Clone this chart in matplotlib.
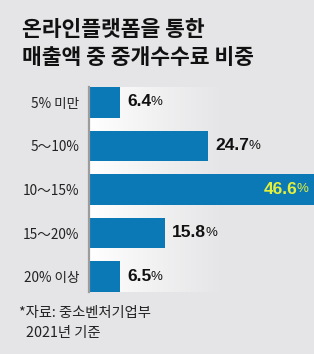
import matplotlib
matplotlib.use("Agg")
import matplotlib.pyplot as plt
import numpy as np
from matplotlib.colors import LinearSegmentedColormap

plt.rcParams['font.family'] = ['Noto Sans CJK KR', 'DejaVu Sans']

categories = ["5% 미만", "5～10%", "10～15%", "15～20%", "20% 이상"]
values = [6.4, 24.7, 46.6, 15.8, 6.5]
title_lines = ["온라인플랫폼을 통한", "매출액 중 중개수수료 비중"]
footnote_lines = ["*자료: 중소벤처기업부", "2021년 기준"]

BG = "#e5e5e7"
BAR = "#0a79b5"
HILITE = "#e4f03c"

W, H = 314, 354
fig = plt.figure(figsize=(W / 100, H / 100), dpi=100, facecolor=BG)

ax_left, ax_right = 89 / W, 1.0
ax_top, ax_bot = 1 - 87 / H, 1 - 292 / H
ax = fig.add_axes([ax_left, ax_bot, ax_right - ax_left, ax_top - ax_bot])
ax.set_facecolor(BG)

xmax = 46.6
bh = 0.71
ylims = (len(values) - 1 + bh / 2, -bh / 2)

# gradient background (white at axis -> background at right)
cmap = LinearSegmentedColormap.from_list("g", ["#ffffff", "#f1f1f2", BG])
grad = np.linspace(0, 1, 256).reshape(1, -1)
ax.imshow(grad, aspect="auto", cmap=cmap, extent=[0, 28, ylims[0], ylims[1]],
          zorder=0, interpolation="bilinear")
ax.set_xlim(0, xmax)
ax.set_ylim(*ylims)

y = np.arange(len(values))
ax.barh(y, values, height=bh, color=BAR, zorder=2)

for s in ["top", "right", "bottom"]:
    ax.spines[s].set_visible(False)
ax.spines["left"].set_color("#9c9c9c")
ax.spines["left"].set_linewidth(1.6)
ax.spines["left"].set_zorder(3)
ax.set_xticks([])
ax.set_yticks(y)
ax.set_yticklabels(categories, fontsize=9.8, color="#222222")
ax.tick_params(axis="y", length=0, pad=7)

fig.canvas.draw()
renderer = fig.canvas.get_renderer()
numfont = dict(family=["Liberation Sans", "DejaVu Sans"], fontweight="bold", fontsize=12.5)
pctfont = dict(family=["Liberation Sans", "DejaVu Sans"], fontsize=9.5)
for i, v in enumerate(values):
    num = f"{v:.1f}"
    if i == int(np.argmax(values)):
        tp = ax.annotate("%", xy=(v, i), xytext=(-6, 0), textcoords="offset pixels",
                         ha="right", va="center", color=HILITE, zorder=4, **pctfont)
        bb = tp.get_window_extent(renderer)
        ax.annotate(num, xy=(v, i), xytext=(-6 - bb.width + 1, 0.5), textcoords="offset pixels",
                    ha="right", va="center", color=HILITE, zorder=4, **numfont)
    else:
        tn = ax.annotate(num, xy=(v, i), xytext=(7, 0.5), textcoords="offset pixels",
                         ha="left", va="center", color="#111111", zorder=4, **numfont)
        bb = tn.get_window_extent(renderer)
        ax.annotate("%", xy=(v, i), xytext=(7 + bb.width - 1, 0), textcoords="offset pixels",
                    ha="left", va="center", color="#111111", zorder=4, **pctfont)

# title
fig.text(22 / W, 1 - 29 / H, title_lines[0], fontsize=15.5, fontweight="heavy",
         color="#111111", ha="left", va="center")
fig.text(22 / W, 1 - 57 / H, title_lines[1], fontsize=15.5, fontweight="heavy",
         color="#111111", ha="left", va="center")

# footnote
fig.text(19 / W, 1 - 313 / H, footnote_lines[0], fontsize=10.3, color="#222222",
         ha="left", va="center")
fig.text(26 / W, 1 - 333 / H, footnote_lines[1], fontsize=10.3, color="#222222",
         ha="left", va="center")

fig.savefig("out.png", dpi=100, facecolor=BG)
